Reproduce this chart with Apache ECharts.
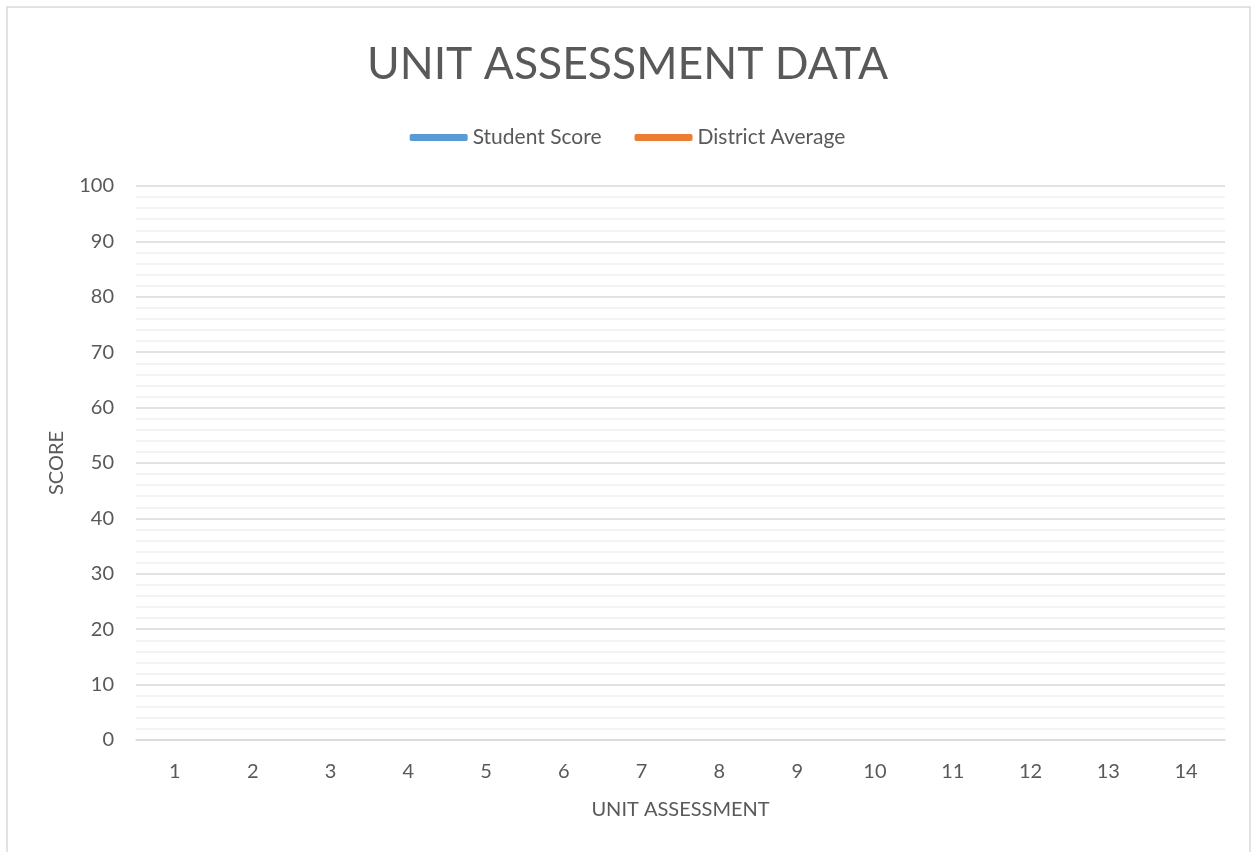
<!DOCTYPE html>
<html>
<head>
<meta charset="utf-8">
<script src="https://cdn.jsdelivr.net/npm/echarts@6/dist/echarts.min.js"></script>
<style>
  html, body { margin: 0; padding: 0; background: #fff; }
  #chart { width: 1255px; height: 852px; }
</style>
</head>
<body>
<div id="chart"></div>
<script>
// unit numbers on the x axis
var units = ['1', '2', '3', '4', '5', '6', '7', '8', '9', '10', '11', '12', '13', '14'];
// the sheet has no scores filled in yet, so both lines are empty
var studentScore = [];
var districtAverage = [];

var font = 'Lato';
var textColor = '#595959';

var myChart = echarts.init(document.getElementById('chart'));

var option = {
    backgroundColor: '#ffffff',
    animation: false,
    graphic: [{
        type: 'rect',
        shape: { x: 7, y: 7, width: 1243, height: 860 },
        style: { fill: 'none', stroke: '#D9D9D9', lineWidth: 1.5 },
        silent: true
    }],
    title: {
        text: 'UNIT ASSESSMENT DATA',
        left: 'center',
        top: 37,
        textStyle: {
            color: textColor,
            fontFamily: font,
            fontWeight: 'normal',
            fontSize: 44.5
        }
    },
    legend: {
        top: 122,
        left: 'center',
        icon: 'roundRect',
        itemWidth: 58,
        itemHeight: 7,
        itemGap: 33,
        textStyle: { color: textColor, fontFamily: font, fontSize: 21 },
        data: ['Student Score', 'District Average']
    },
    grid: {
        left: 136,
        right: 30,
        top: 186,
        bottom: 112
    },
    xAxis: {
        type: 'category',
        data: units,
        boundaryGap: true,
        name: 'UNIT ASSESSMENT',
        nameLocation: 'middle',
        nameGap: 60,
        nameTextStyle: { color: textColor, fontFamily: font, fontSize: 20 },
        axisLine: { lineStyle: { color: '#D9D9D9', width: 1.5 } },
        axisTick: { show: false },
        axisLabel: { color: textColor, fontFamily: font, fontSize: 20, margin: 22 }
    },
    yAxis: {
        type: 'value',
        min: 0,
        max: 100,
        interval: 10,
        name: 'SCORE',
        nameLocation: 'middle',
        nameGap: 69,
        nameTextStyle: { color: textColor, fontFamily: font, fontSize: 20 },
        axisLine: { show: false },
        axisTick: { show: false },
        axisLabel: { color: textColor, fontFamily: font, fontSize: 20, margin: 22 },
        splitLine: { lineStyle: { color: '#D9D9D9', width: 1.5 } },
        minorTick: { show: false, splitNumber: 5 },
        minorSplitLine: { show: true, lineStyle: { color: '#F0F0F0', width: 1.5 } }
    },
    series: [
        {
            name: 'Student Score',
            type: 'line',
            data: studentScore,
            itemStyle: { color: '#5B9BD5' },
            lineStyle: { color: '#5B9BD5', width: 4 },
            showSymbol: false
        },
        {
            name: 'District Average',
            type: 'line',
            data: districtAverage,
            itemStyle: { color: '#ED7D31' },
            lineStyle: { color: '#ED7D31', width: 4 },
            showSymbol: false
        }
    ]
};

myChart.setOption(option);
</script>
</body>
</html>
